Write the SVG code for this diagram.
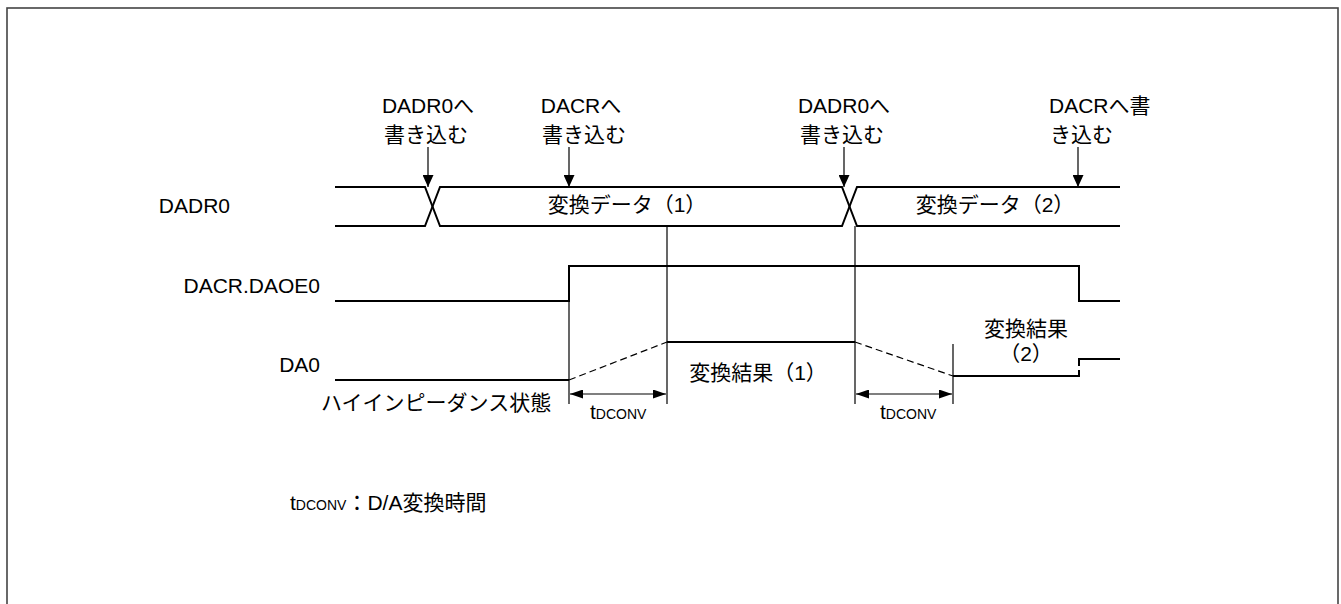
<svg xmlns="http://www.w3.org/2000/svg" width="1341" height="604" viewBox="0 0 1341 604">
<style>
text{font-family:"Liberation Sans","Noto Sans CJK JP",sans-serif;font-size:21px;fill:#000}
.sig{fill:none;stroke:#000;stroke-width:2}
.thin{fill:none;stroke:#000;stroke-width:1.2}
.dash{fill:none;stroke:#000;stroke-width:1.2;stroke-dasharray:7 4}
.sub{font-size:14px}
</style>
<defs>
<marker id="ah" viewBox="0 0 12 11" refX="12" refY="5.5" markerWidth="12" markerHeight="11" markerUnits="userSpaceOnUse" orient="auto">
<path d="M0,0 L12,5.5 L0,11 Z" fill="#000"/>
</marker>
<marker id="ah2" viewBox="0 0 13 9" refX="13" refY="4.5" markerWidth="13" markerHeight="9" markerUnits="userSpaceOnUse" orient="auto-start-reverse">
<path d="M0,0 L13,4.5 L0,9 Z" fill="#000"/>
</marker>
</defs>
<rect x="7" y="8" width="1331" height="610" fill="#fff" stroke="#444" stroke-width="1.6"/>
<g id="labels">
<text x="230" y="213" text-anchor="end">DADR0</text>
<text x="320" y="293" text-anchor="end">DACR.DAOE0</text>
<text x="320" y="372" text-anchor="end">DA0</text>
<text x="321" y="410">ハイインピーダンス状態</text>
</g>
<g id="ann1">
<text x="428" y="113" text-anchor="middle">DADR0へ</text>
<text x="426" y="142" text-anchor="middle">書き込む</text>
</g>
<g id="ann2">
<text x="581" y="113" text-anchor="middle">DACRへ</text>
<text x="584" y="142" text-anchor="middle">書き込む</text>
</g>
<g id="ann3">
<text x="844" y="113" text-anchor="middle">DADR0へ</text>
<text x="842" y="142" text-anchor="middle">書き込む</text>
</g>
<g id="ann4">
<text x="1049" y="113">DACRへ書</text>
<text x="1050" y="142">き込む</text>
</g>
<g id="dadr0">
<path class="sig" d="M335,187 H425 L440,226 H842 L857,187 H1120"/>
<path class="sig" d="M335,226 H425 L440,187 H842 L857,226 H1120"/>
<text x="627" y="212" text-anchor="middle">変換データ（1）</text>
<text x="995" y="212" text-anchor="middle">変換データ（2）</text>
</g>
<g id="daoe0">
<path class="sig" d="M335,301 H569 V266 H1079 V301 H1120"/>
</g>
<g id="da0">
<path class="sig" d="M335,380 H569"/>
<path class="dash" d="M569,380 L667,342"/>
<path class="sig" d="M667,342 H855"/>
<path class="dash" d="M855,342 L953,376"/>
<path class="sig" d="M953,376 H1079 V370 M1079,366 V359 H1120"/>
<text x="758" y="380" text-anchor="middle">変換結果（1）</text>
<text x="1026" y="336" text-anchor="middle">変換結果</text>
<text x="1026" y="361" text-anchor="middle">（2）</text>
</g>
<g id="connectors">
<line class="thin" x1="428" y1="147" x2="428" y2="187" marker-end="url(#ah)"/>
<line class="thin" x1="569" y1="147" x2="569" y2="187" marker-end="url(#ah)"/>
<line class="thin" x1="844" y1="147" x2="844" y2="187" marker-end="url(#ah)"/>
<line class="thin" x1="1078" y1="147" x2="1078" y2="187" marker-end="url(#ah)"/>
<line class="thin" x1="569" y1="266" x2="569" y2="404"/>
<line class="thin" x1="667" y1="226" x2="667" y2="404"/>
<line class="thin" x1="855" y1="226" x2="855" y2="404"/>
<line class="thin" x1="953" y1="344" x2="953" y2="404"/>
<line class="thin" x1="570" y1="394" x2="666" y2="394" marker-start="url(#ah2)" marker-end="url(#ah2)"/>
<line class="thin" x1="856" y1="394" x2="952" y2="394" marker-start="url(#ah2)" marker-end="url(#ah2)"/>
</g>
<g id="tconv">
<text x="590" y="419">t<tspan class="sub">DCONV</tspan></text>
<text x="880" y="419">t<tspan class="sub">DCONV</tspan></text>
</g>
<g id="footnote">
<text x="290" y="510">t<tspan class="sub">DCONV</tspan>：D/A変換時間</text>
</g>
</svg>
